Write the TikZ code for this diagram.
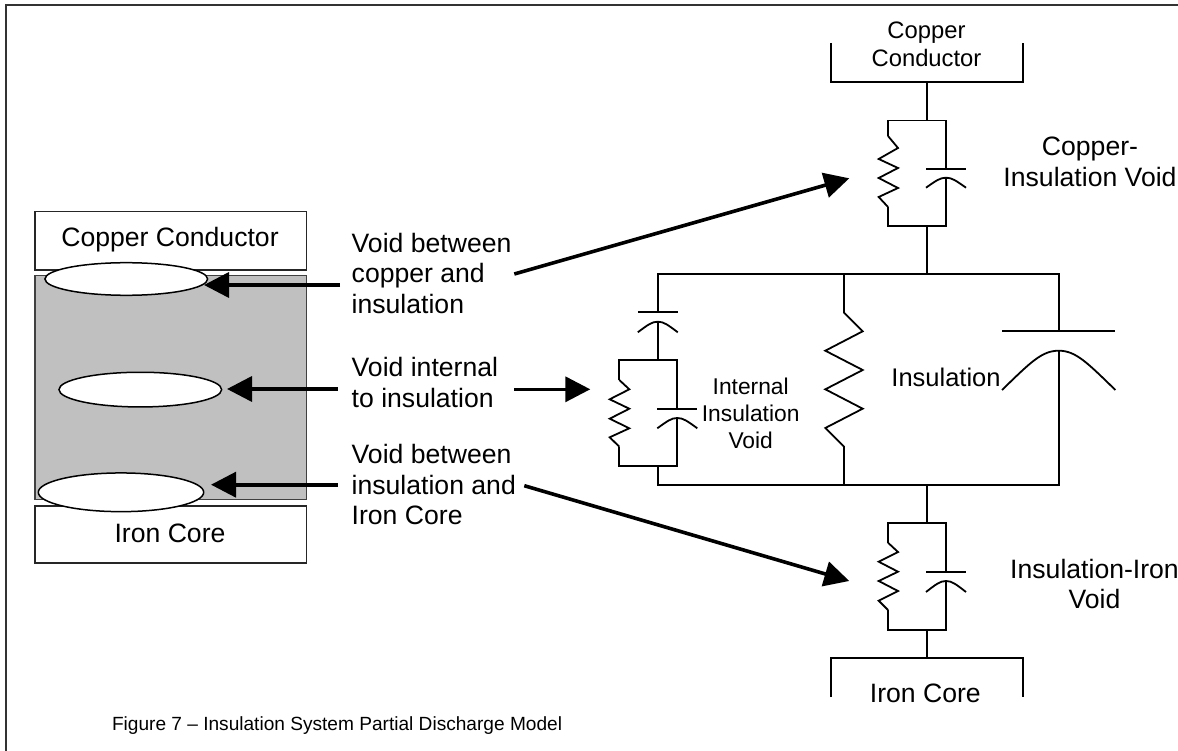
\documentclass[tikz,border=0pt]{standalone}
\usepackage{fontspec}
\setmainfont{Liberation Sans}
\usetikzlibrary{arrows.meta,shapes.geometric}
\definecolor{insgray}{HTML}{C0C0C0}
\tikzset{
  wire/.style={line width=1.8pt,line join=miter,black},
  framel/.style={line width=2pt,color=black!80},
  boxl/.style={draw=black!85,line width=1.7pt,fill=white},
  void/.style={shape=ellipse,draw=black,line width=1.5pt,fill=white,inner sep=0pt,outer sep=0pt},
  pointer/.style={line width=3.6pt,black,-{Triangle[length=25pt,width=25pt]}},
  lbl/.style={inner sep=0pt,outer sep=0pt,font=\fontsize{26.6}{30.6}\selectfont,align=left,anchor=base west},
  clbl/.style={inner sep=0pt,outer sep=0pt,font=\fontsize{26.6}{30.6}\selectfont,align=center,anchor=base},
}
% capacitor: x, plate y, peak y, arc-end y, half width
\newcommand{\capsym}[5]{%
  \draw[wire] ({#1-#5},#2) -- ({#1+#5},#2);
  \draw[wire] ({#1-#5},#4) .. controls ({#1-0.5*#5},{#3+0.3*(#4-#3)}) and ({#1-0.3*#5},#3) .. (#1,#3)
     .. controls ({#1+0.3*#5},#3) and ({#1+0.5*#5},{#3+0.3*(#4-#3)}) .. ({#1+#5},#4);
}
\begin{document}
\begin{tikzpicture}[x=1pt,y=-1pt]
\useasboundingbox (0,0) rectangle (1178,751);
% frame
\draw[framel] (5.5,751) -- (5.5,5.5) -- (1178,5.5);

% left cross-section
\node[boxl,minimum width=271.7pt,minimum height=58.6pt,anchor=north west,inner sep=0pt] (copperbox) at (34,210.7) {};
\node[draw=black!75,line width=1.5pt,fill=insgray,minimum width=271.7pt,minimum height=224pt,anchor=north west,inner sep=0pt] (insbox) at (34,274.7) {};
\node[boxl,minimum width=271.7pt,minimum height=56.7pt,anchor=north west,inner sep=0pt] (ironbox) at (34,505.3) {};
\node[clbl] (coppertxt) at (170,246.5) {Copper Conductor};
\node[clbl] (irontxt) at (170,542.2) {Iron Core};
\node[void,minimum width=162.7pt,minimum height=32.6pt] (v1) at (126.3,279) {};
\node[void,minimum width=162.7pt,minimum height=34.7pt] (v2) at (140.3,389.6) {};
\node[void,minimum width=165.4pt,minimum height=38.7pt] (v3) at (121,492.3) {};

% pointer coordinates
\coordinate (a1s) at (340,285);   \coordinate (a1t) at (204,285);
\coordinate (a2s) at (337.7,389); \coordinate (a2t) at (227,389);
\coordinate (a3s) at (337.7,484.7); \coordinate (a3t) at (211,484.7);
\coordinate (b1s) at (514.3,274); \coordinate (b1t) at (849.3,178.3);
\coordinate (b2s) at (514.3,389.3); \coordinate (b2t) at (590.3,389.3);
\coordinate (b3s) at (524.3,485.7); \coordinate (b3t) at (849.3,581);
\foreach \s/\t in {a1s/a1t,a2s/a2t,a3s/a3t,b1s/b1t,b2s/b2t,b3s/b3t}
  \draw[pointer] (\s) -- (\t);

% labels (base anchor = last line)
\node[lbl] (l1) at (351.7,313.2) {Void between\\copper and\\insulation};
\node[lbl] (l2) at (351.7,407.2) {Void internal\\to insulation};
\node[lbl] (l3) at (351.7,524.8) {Void between\\insulation and\\Iron Core};

% top bracket and RC
\coordinate (topbr) at (926.7,82);
\coordinate (toprc) at (926.7,120.5);
\coordinate (toprcb) at (926.7,226);
\coordinate (maintop) at (926.7,274);
\draw[wire] (830.7,43) -- (830.7,82) -- (1023,82) -- (1023,43);
\draw[wire] (topbr) -- (toprc);
\draw[wire] (toprcb) -- (maintop);
\draw[wire] (888,136) -- (888,120.5) -- (946,120.5) -- (946,168.7);
\draw[wire] (946,177.7) -- (946,226) -- (888,226) -- (888,207);
\draw[wire] (888,136) -- (898,148) -- (878.7,159) -- (898,168) -- (878.7,178) -- (898,188) -- (878.7,197) -- (888,207);
\capsym{946}{168.7}{177.7}{187.7}{20}

% main loop
\coordinate (mainbot) at (926.7,485.3);
\draw[wire] (657.8,312) -- (657.8,274) -- (1058.7,274) -- (1058.7,331.3);
\draw[wire] (1058.7,350.7) -- (1058.7,485.3) -- (657.8,485.3) -- (657.8,466);
% middle resistor
\draw[wire] (844,274) -- (844,312.7) -- (862.7,331.3) -- (825.3,350.7) -- (862.7,370) -- (825.3,389.3) -- (862.7,408.7) -- (825.3,428) -- (844,446.7) -- (844,485.3);
\capsym{1058.7}{331.3}{350.7}{390}{56.7}
% left branch
\capsym{657.8}{312}{321.7}{332.3}{20}
\draw[wire] (657.8,321.7) -- (657.8,360.3);
\draw[wire] (619.3,380) -- (619.3,360.3) -- (677.3,360.3) -- (677.3,408.7);
\draw[wire] (677.3,418) -- (677.3,466) -- (619.3,466) -- (619.3,446.7);
\draw[wire] (619.3,380) -- (629.3,389.3) -- (609.7,399.3) -- (629.3,408.7) -- (609.7,418.7) -- (629.3,428.3) -- (609.7,437.3) -- (619.3,446.7);
\capsym{677.3}{408.7}{418}{428.3}{20}

% bottom RC and bracket
\coordinate (botrc) at (926.7,523.3);
\coordinate (botrcb) at (926.7,629.7);
\coordinate (botbr) at (926.7,658.3);
\draw[wire] (mainbot) -- (botrc);
\draw[wire] (botrcb) -- (botbr);
\draw[wire] (888,542.7) -- (888,523.3) -- (946,523.3) -- (946,571.7);
\draw[wire] (946,581) -- (946,629.7) -- (888,629.7) -- (888,610);
\draw[wire] (888,542.7) -- (898,552) -- (878.7,561.7) -- (898,571.7) -- (878.7,581) -- (898,591) -- (878.7,600.7) -- (888,610);
\capsym{946}{571.7}{581}{592}{20}
\draw[wire] (830.7,697) -- (830.7,658.3) -- (1023,658.3) -- (1023,697);

% circuit labels
\node[clbl,font=\fontsize{23.8}{28.2}\selectfont] (topcu) at (926.5,66.5) {Copper\\Conductor};
\node[clbl] (cuvoid) at (1090,186.5) {Copper-\\Insulation Void};
\node[clbl,font=\fontsize{22.8}{27.3}\selectfont] (intvoid) at (750.7,448.8) {Internal\\Insulation\\Void};
\node[clbl,font=\fontsize{25.5}{30}\selectfont] (instxt) at (946,386.5) {Insulation};
\node[clbl] (fevoid) at (1094.5,608.8) {Insulation-Iron\\Void};
\node[clbl] (botfe) at (925.3,702.8) {Iron Core};
\node[lbl,font=\fontsize{19.1}{23}\selectfont] (caption) at (112,730) {Figure 7 – Insulation System Partial Discharge Model};
\end{tikzpicture}
\end{document}
